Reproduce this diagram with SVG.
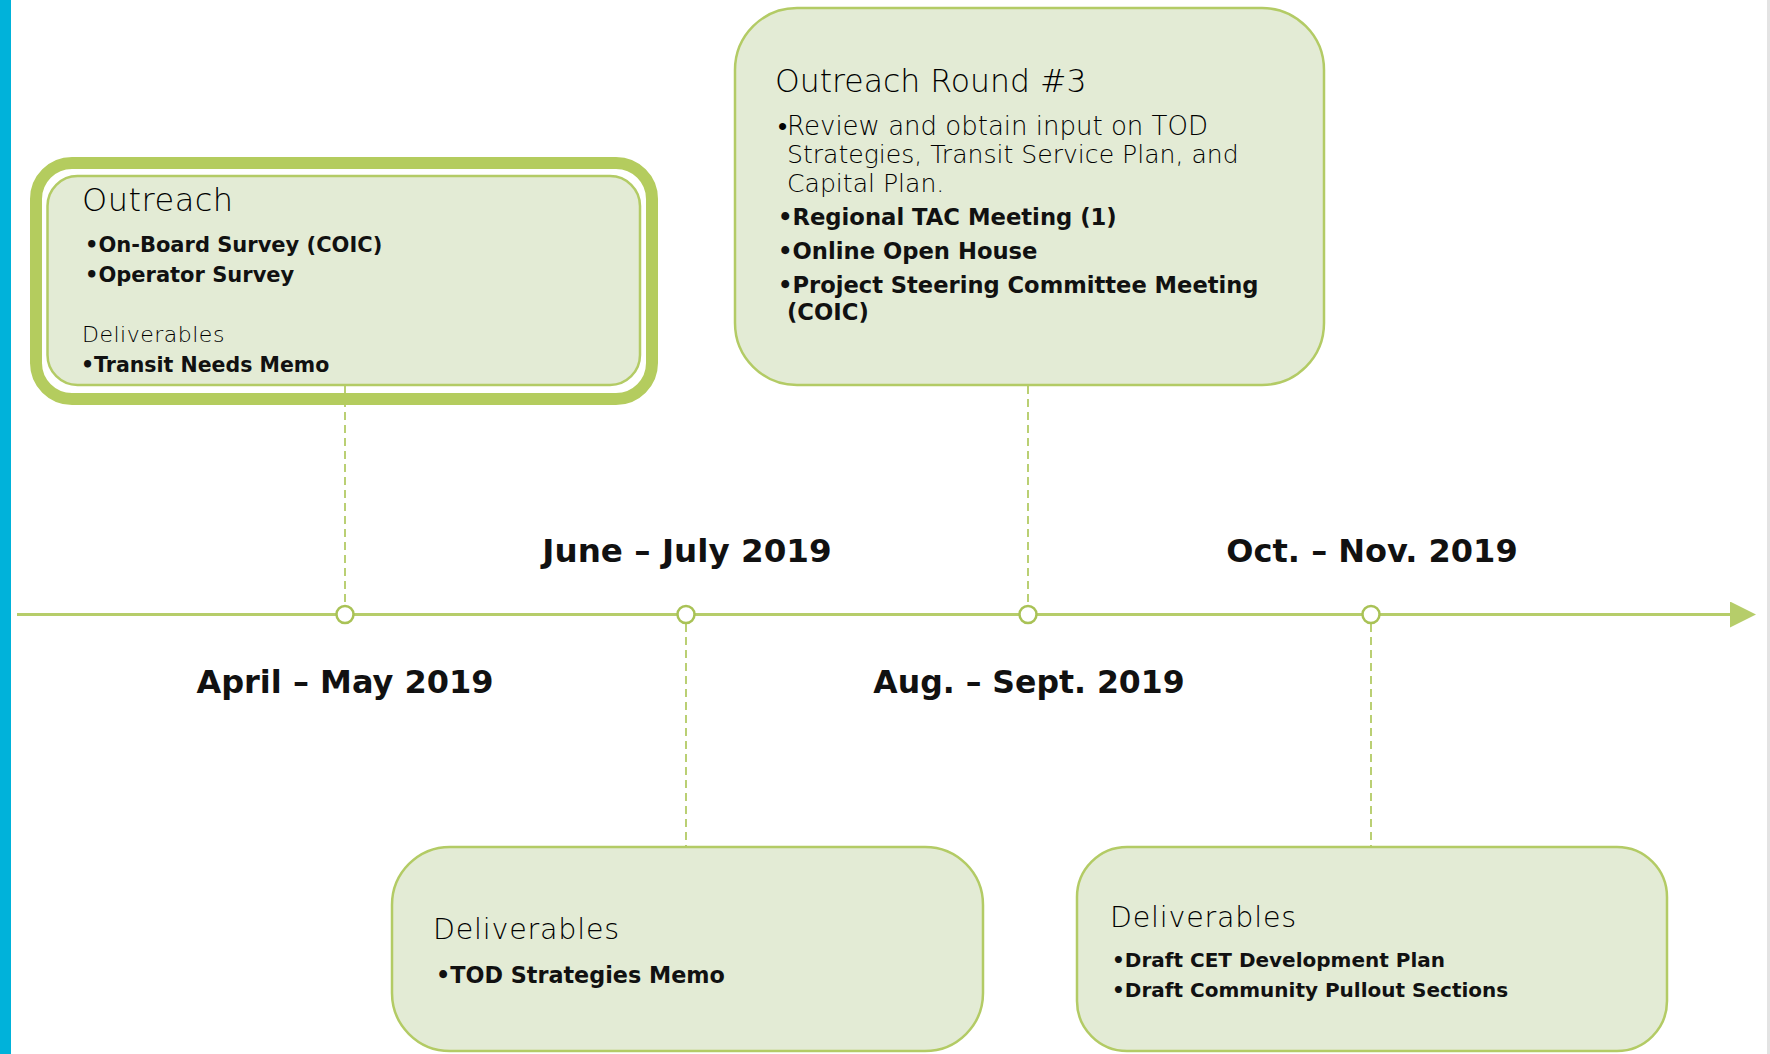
<svg xmlns="http://www.w3.org/2000/svg" width="1770" height="1054" viewBox="0 0 1770 1054">
  <defs>
    <style>
      .box { fill: #E3EBD5; stroke: #B3CB65; stroke-width: 2.5; }
      .frame { fill: none; stroke: #B4CC5E; stroke-width: 12; }
      .conn { stroke: #B3CB65; stroke-width: 1.8; stroke-dasharray: 8 5; fill: none; }
      .axis { stroke: #B6CD6A; stroke-width: 3; fill: none; }
      .dot { fill: #FFFFFF; stroke: #A9C256; stroke-width: 2.5; }
      .head { font-family: "DejaVu Sans", "Liberation Sans", sans-serif; font-weight: 200; fill: #000000; }
      .item { font-family: "DejaVu Sans", "Liberation Sans", sans-serif; font-weight: bold; fill: #111111; }
      .date { font-family: "DejaVu Sans", "Liberation Sans", sans-serif; font-weight: bold; fill: #111111; text-anchor: middle; }
    </style>
    <marker id="arrow" viewBox="0 0 26 26" refX="0" refY="13" markerWidth="26" markerHeight="26" markerUnits="userSpaceOnUse" orient="auto">
      <path d="M0,0 L26,13 L0,26 Z" fill="#B6CD6A"/>
    </marker>
  </defs>

  <rect x="0" y="0" width="1770" height="1054" fill="#FFFFFF"/>
  <rect x="0" y="0" width="11" height="1054" fill="#00B2DA"/>
  <rect x="1767" y="0" width="3" height="1054" fill="#E3E3E3"/>

  <g id="connectors">
    <line class="axis" x1="17" y1="614.5" x2="1730" y2="614.5" marker-end="url(#arrow)"/>
    <line class="conn" x1="345" y1="386" x2="345" y2="605"/>
    <line class="conn" x1="1028" y1="386" x2="1028" y2="605"/>
    <line class="conn" x1="686" y1="624" x2="686" y2="846"/>
    <line class="conn" x1="1371" y1="624" x2="1371" y2="846"/>
  </g>

  <g id="milestones">
    <circle class="dot" cx="345" cy="614.5" r="8.5"/>
    <circle class="dot" cx="686" cy="614.5" r="8.5"/>
    <circle class="dot" cx="1028" cy="614.5" r="8.5"/>
    <circle class="dot" cx="1371" cy="614.5" r="8.5"/>
  </g>

  <g id="date-labels">
    <text class="date" x="345" y="693" font-size="32">April – May 2019</text>
    <text class="date" x="687" y="562" font-size="32.6">June – July 2019</text>
    <text class="date" x="1029" y="693" font-size="31.5">Aug. – Sept. 2019</text>
    <text class="date" x="1372" y="562" font-size="32">Oct. – Nov. 2019</text>
  </g>

  <g id="node-outreach">
    <rect class="frame" x="36" y="163" width="616" height="236" rx="36" ry="36"/>
    <rect class="box" x="47.5" y="176" width="592.5" height="209" rx="30" ry="30"/>
    <text class="head" x="82" y="211" font-size="32" letter-spacing="0.5">Outreach</text>
    <text class="item" x="85" y="252" font-size="21">•On-Board Survey (COIC)</text>
    <text class="item" x="85" y="282" font-size="21">•Operator Survey</text>
    <text class="head" x="82" y="342" font-size="22" letter-spacing="0.5">Deliverables</text>
    <text class="item" x="81" y="372" font-size="20.5">•Transit Needs Memo</text>
  </g>

  <g id="node-outreach-round3">
    <rect class="box" x="735" y="8" width="589" height="377" rx="62" ry="62"/>
    <text class="head" x="775" y="92" font-size="31.5">Outreach Round #3</text>
    <text class="head" x="778" y="135" font-size="26">•Review and obtain input on TOD</text>
    <text class="head" x="787" y="163" font-size="25.1">Strategies, Transit Service Plan, and</text>
    <text class="head" x="787" y="192" font-size="25.1">Capital Plan.</text>
    <text class="item" x="778" y="225" font-size="22.7">•Regional TAC Meeting (1)</text>
    <text class="item" x="778" y="259" font-size="22.7">•Online Open House</text>
    <text class="item" x="778" y="293" font-size="22.6">•Project Steering Committee Meeting</text>
    <text class="item" x="787" y="320" font-size="22.7">(COIC)</text>
  </g>

  <g id="node-tod-deliverables">
    <rect class="box" x="392" y="847" width="591" height="204" rx="58" ry="58"/>
    <text class="head" x="433" y="939" font-size="28.5" letter-spacing="0.8">Deliverables</text>
    <text class="item" x="436" y="983" font-size="22.3">•TOD Strategies Memo</text>
  </g>

  <g id="node-cet-deliverables">
    <rect class="box" x="1077" y="847" width="590" height="204" rx="50" ry="50"/>
    <text class="head" x="1110" y="927" font-size="28.5" letter-spacing="0.8">Deliverables</text>
    <text class="item" x="1112" y="967" font-size="20">•Draft CET Development Plan</text>
    <text class="item" x="1112" y="997" font-size="20">•Draft Community Pullout Sections</text>
  </g>
</svg>
